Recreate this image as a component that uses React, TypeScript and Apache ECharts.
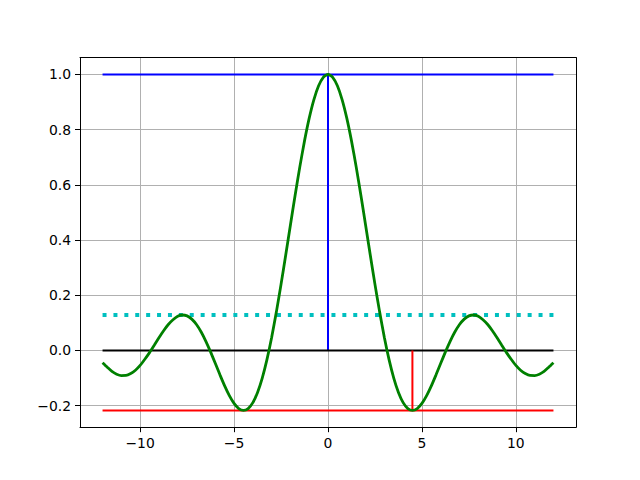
import React, { useEffect, useRef } from "react";
import * as echarts from "echarts";

const xSamples = [
  -12, -11.75, -11.5, -11.25, -11, -10.75, -10.5, -10.25, -10, -9.75, -9.5, -9.25, -9,
  -8.75, -8.5, -8.25, -8, -7.75, -7.5, -7.25, -7, -6.75, -6.5, -6.25, -6, -5.75, -5.5,
  -5.25, -5, -4.75, -4.5, -4.25, -4, -3.75, -3.5, -3.25, -3, -2.75, -2.5, -2.25, -2,
  -1.75, -1.5, -1.25, -1, -0.75, -0.5, -0.25, 0, 0.25, 0.5, 0.75, 1, 1.25, 1.5, 1.75,
  2, 2.25, 2.5, 2.75, 3, 3.25, 3.5, 3.75, 4, 4.25, 4.5, 4.75, 5, 5.25, 5.5, 5.75, 6,
  6.25, 6.5, 6.75, 7, 7.25, 7.5, 7.75, 8, 8.25, 8.5, 8.75, 9, 9.25, 9.5, 9.75, 10,
  10.25, 10.5, 10.75, 11, 11.25, 11.5, 11.75, 12,
];

const curveValues = [
  -0.0447, -0.0608, -0.0761, -0.086, -0.0909, -0.0907, -0.0838, -0.0717, -0.0544,
  -0.032, -0.0079, 0.0188, 0.0458, 0.0714, 0.0939, 0.1111, 0.1237, 0.1283, 0.1251,
  0.1135, 0.0939, 0.0667, 0.0331, -0.0053, -0.0466, -0.0884, -0.1283, -0.1636, -0.1918,
  -0.2104, -0.2172, -0.2106, -0.1892, -0.1524, -0.1002, -0.0333, 0.047, 0.1388, 0.2394,
  0.3458, 0.4546, 0.5623, 0.665, 0.7592, 0.8415, 0.9089, 0.9589, 0.9896, 1, 0.9896,
  0.9589, 0.9089, 0.8415, 0.7592, 0.665, 0.5623, 0.4546, 0.3458, 0.2394, 0.1388, 0.047,
  -0.0333, -0.1002, -0.1524, -0.1892, -0.2106, -0.2172, -0.2104, -0.1918, -0.1636,
  -0.1283, -0.0884, -0.0466, -0.0053, 0.0331, 0.0667, 0.0939, 0.1135, 0.1251, 0.1283,
  0.1237, 0.1111, 0.0939, 0.0714, 0.0458, 0.0188, -0.0079, -0.032, -0.0544, -0.0717,
  -0.0838, -0.0907, -0.0909, -0.086, -0.0761, -0.0608, -0.0447,
];

const lineSpan = [-12, 12];
const maxLevel = 1.0;
const lobeLevel = 0.1284;
const zeroLevel = 0;
const minLevel = -0.2172;
const peakX = 0;
const minX = 4.493;

const xTicks = [-10, -5, 0, 5, 10];
const yTicks = [-0.2, 0, 0.2, 0.4, 0.6, 0.8, 1.0];
const xRange = [-13.2, 13.2];
const yRange = [-0.2781, 1.0609];

const fmtMinus = (s: string) => s.replace("-", "\u2212");

export default function App() {
  const ref = useRef<HTMLDivElement>(null);
  useEffect(() => {
    if (!ref.current) return;
    const chart = echarts.init(ref.current, null, { renderer: "svg" });
    const font = "DejaVu Sans";
    const hLine = (y: number) => lineSpan.map((x) => [x, y]);
    chart.setOption({
      animation: false,
      backgroundColor: "#ffffff",
      grid: { left: 80, right: 64, top: 57.6, bottom: 52.8, containLabel: false },
      xAxis: [
        {
          type: "value",
          min: xRange[0],
          max: xRange[1],
          axisLine: { show: true, onZero: false, lineStyle: { color: "#000", width: 1 } },
          axisTick: { show: true, inside: false, length: 5, customValues: xTicks, lineStyle: { color: "#000", width: 1 } },
          axisLabel: {
            customValues: xTicks,
            margin: 9,
            color: "#000",
            fontFamily: font,
            fontSize: 13.9,
            formatter: (v: number) => fmtMinus(String(v)),
          },
          splitLine: { show: true, lineStyle: { color: "#b0b0b0", width: 1 } },
        },
        {
          type: "value",
          position: "top",
          min: xRange[0],
          max: xRange[1],
          axisLine: { show: true, onZero: false, lineStyle: { color: "#000", width: 1 } },
          axisTick: { show: false },
          axisLabel: { show: false },
          splitLine: { show: false },
        },
      ],
      yAxis: [
        {
          type: "value",
          min: yRange[0],
          max: yRange[1],
          axisLine: { show: true, onZero: false, lineStyle: { color: "#000", width: 1 } },
          axisTick: { show: true, inside: false, length: 5, customValues: yTicks, lineStyle: { color: "#000", width: 1 } },
          axisLabel: {
            customValues: yTicks,
            margin: 9,
            color: "#000",
            fontFamily: font,
            fontSize: 13.9,
            formatter: (v: number) => fmtMinus(v.toFixed(1)),
          },
          splitLine: { show: true, lineStyle: { color: "#b0b0b0", width: 1 } },
        },
        {
          type: "value",
          position: "right",
          min: yRange[0],
          max: yRange[1],
          axisLine: { show: true, onZero: false, lineStyle: { color: "#000", width: 1 } },
          axisTick: { show: false },
          axisLabel: { show: false },
          splitLine: { show: false },
        },
      ],
      series: [
        {
          type: "line",
          data: hLine(maxLevel),
          showSymbol: false,
          lineStyle: { color: "#0000ff", width: 2 },
          z: 2,
        },
        {
          type: "line",
          data: [[peakX, zeroLevel], [peakX, maxLevel]],
          showSymbol: false,
          lineStyle: { color: "#0000ff", width: 2 },
          z: 2,
        },
        {
          type: "line",
          data: hLine(lobeLevel),
          showSymbol: false,
          lineStyle: { color: "#00bfbf", width: 4, type: [4, 6.9], cap: "butt" },
          z: 2,
        },
        {
          type: "line",
          data: hLine(zeroLevel),
          showSymbol: false,
          lineStyle: { color: "#000000", width: 2 },
          z: 2,
        },
        {
          type: "line",
          data: hLine(minLevel),
          showSymbol: false,
          lineStyle: { color: "#ff0000", width: 2 },
          z: 2,
        },
        {
          type: "line",
          data: [[minX, minLevel], [minX, zeroLevel]],
          showSymbol: false,
          lineStyle: { color: "#ff0000", width: 2 },
          z: 2,
        },
        {
          type: "line",
          data: xSamples.map((x, i) => [x, curveValues[i]]),
          showSymbol: false,
          smooth: 0.2,
          lineStyle: { color: "#008000", width: 2.8 },
          z: 3,
        },
      ],
    });
    return () => chart.dispose();
  }, []);
  return (
    <div
      ref={ref}
      style={{ position: "fixed", left: 0, top: 0, width: 640, height: 480 }}
    />
  );
}
